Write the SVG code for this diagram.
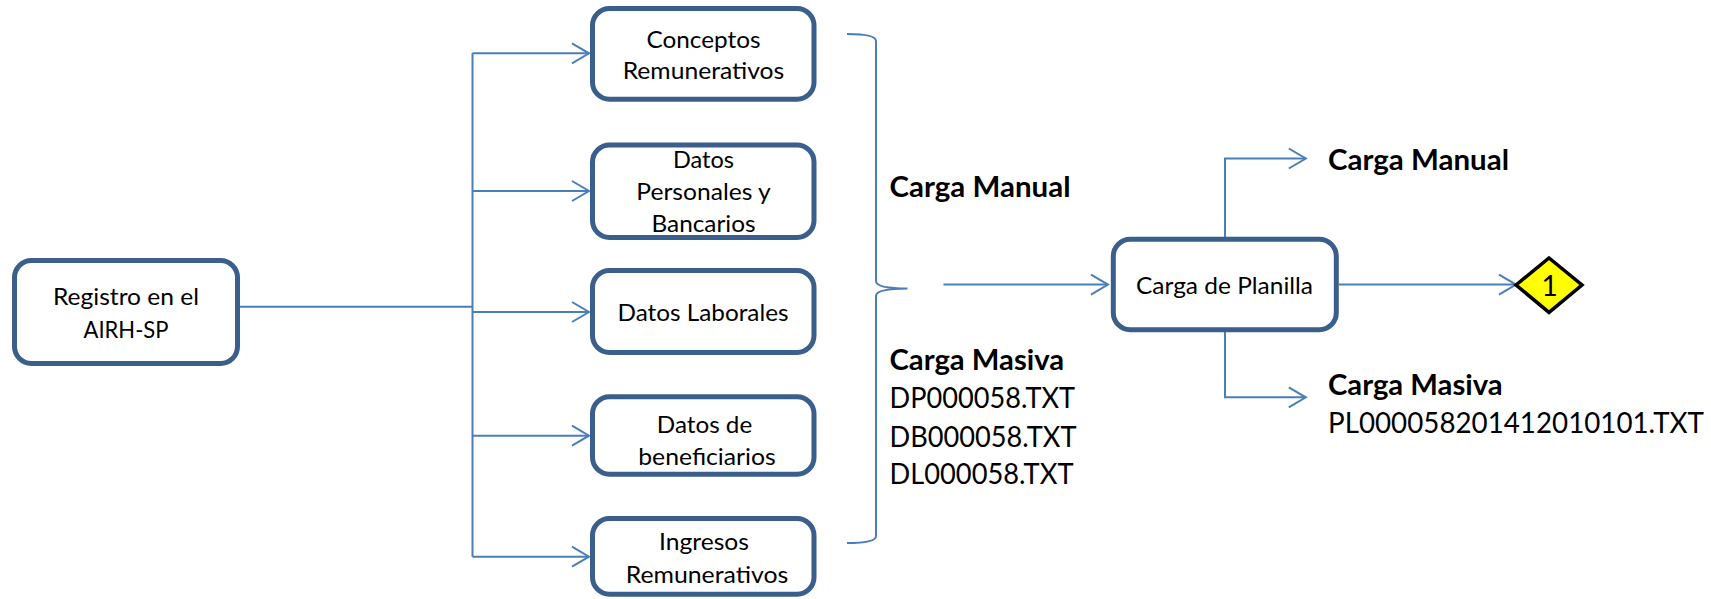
<svg xmlns="http://www.w3.org/2000/svg" width="1711" height="599" viewBox="0 0 1711 599">
<style>
.box{fill:#ffffff;stroke:#3b5f8c;stroke-width:5}
.ln{fill:none;stroke:#4a7ebb;stroke-width:2}
.t{font-family:Lato,"Open Sans","Liberation Sans",sans-serif;font-size:23.5px;fill:#000;text-anchor:middle}
.lb{font-family:Lato,"Open Sans","Liberation Sans",sans-serif;font-size:28.5px;fill:#000}
.b{font-weight:bold}
</style>
<defs>
<marker id="ah" markerUnits="userSpaceOnUse" markerWidth="24" markerHeight="26" refX="20" refY="12" orient="auto" overflow="visible">
<path d="M3,2 L20,12 L3,22" fill="none" stroke="#4a7ebb" stroke-width="2"/>
</marker>
</defs>
<rect width="1711" height="599" fill="#ffffff"/>
<g id="connectors">
<path class="ln" d="M240,306.7 H472.5"/>
<path class="ln" d="M472.5,53.3 V556.7"/>
<path class="ln" d="M472.5,53.3 H589" marker-end="url(#ah)"/>
<path class="ln" d="M472.5,191 H589" marker-end="url(#ah)"/>
<path class="ln" d="M472.5,312 H589" marker-end="url(#ah)"/>
<path class="ln" d="M472.5,435.7 H589" marker-end="url(#ah)"/>
<path class="ln" d="M472.5,556.7 H589" marker-end="url(#ah)"/>
<path class="ln" d="M847,34 Q876,34 876,41 V281 Q876,288.5 907.5,288.5 Q876,288.5 876,296 V536 Q876,543 847,543"/>
<path class="ln" d="M943.4,284.6 H1108" marker-end="url(#ah)"/>
<path class="ln" d="M1225,237 V158.5 H1305.8" marker-end="url(#ah)"/>
<path class="ln" d="M1225,332 V397.3 H1305.8" marker-end="url(#ah)"/>
<path class="ln" d="M1339,284.6 H1516" marker-end="url(#ah)"/>
</g>
<g id="registro">
<rect class="box" x="14.5" y="260.5" width="223" height="103" rx="17"/>
<text class="t" x="126" y="305" textLength="146" lengthAdjust="spacingAndGlyphs">Registro en el</text>
<text class="t" x="126" y="338" textLength="85" lengthAdjust="spacingAndGlyphs">AIRH-SP</text>
</g>
<g id="conceptos">
<rect class="box" x="592.5" y="8.5" width="221.5" height="90.7" rx="17"/>
<text class="t" x="703.5" y="47.5" textLength="114" lengthAdjust="spacingAndGlyphs">Conceptos</text>
<text class="t" x="703.5" y="79.3" textLength="161.6" lengthAdjust="spacingAndGlyphs">Remunerativos</text>
</g>
<g id="personales">
<rect class="box" x="592.5" y="145" width="221.5" height="92.5" rx="17"/>
<text class="t" x="703.5" y="168" textLength="61" lengthAdjust="spacingAndGlyphs">Datos</text>
<text class="t" x="703.5" y="200" textLength="134.5" lengthAdjust="spacingAndGlyphs">Personales y</text>
<text class="t" x="703.5" y="232" textLength="104" lengthAdjust="spacingAndGlyphs">Bancarios</text>
</g>
<g id="laborales">
<rect class="box" x="592.5" y="270.5" width="221.5" height="82" rx="17"/>
<text class="t" x="703" y="321" textLength="171" lengthAdjust="spacingAndGlyphs">Datos Laborales</text>
</g>
<g id="beneficiarios">
<rect class="box" x="592.5" y="396.8" width="221.5" height="77.5" rx="17"/>
<text class="t" x="704.5" y="433" textLength="95.4" lengthAdjust="spacingAndGlyphs">Datos de</text>
<text class="t" x="707" y="465" textLength="137.5" lengthAdjust="spacingAndGlyphs">beneficiarios</text>
</g>
<g id="ingresos">
<rect class="box" x="592.5" y="518.5" width="221.5" height="75.7" rx="17"/>
<text class="t" x="704" y="550" textLength="90" lengthAdjust="spacingAndGlyphs">Ingresos</text>
<text class="t" x="707" y="582.6" textLength="162.7" lengthAdjust="spacingAndGlyphs">Remunerativos</text>
</g>
<g id="carga-planilla">
<rect class="box" x="1113.3" y="239.3" width="223" height="90.5" rx="17"/>
<text class="t" x="1224.5" y="294" textLength="177" lengthAdjust="spacingAndGlyphs">Carga de Planilla</text>
</g>
<g id="conector-1">
<polygon points="1516,285 1549,258 1582,285 1549,312.4" fill="#ffff00" stroke="#000000" stroke-width="3.5" stroke-linejoin="miter"/>
<text class="t" x="1549.5" y="295.5" style="font-size:28px">1</text>
</g>
<g id="labels-left">
<text class="lb b" x="889.5" y="196.7" textLength="181" lengthAdjust="spacingAndGlyphs">Carga Manual</text>
<text class="lb b" x="889.5" y="369.7" textLength="174.6" lengthAdjust="spacingAndGlyphs">Carga Masiva</text>
<text class="lb" x="889.5" y="408" textLength="185.6" lengthAdjust="spacingAndGlyphs">DP000058.TXT</text>
<text class="lb" x="889.5" y="447" textLength="187" lengthAdjust="spacingAndGlyphs">DB000058.TXT</text>
<text class="lb" x="889.5" y="484.3" textLength="184" lengthAdjust="spacingAndGlyphs">DL000058.TXT</text>
</g>
<g id="labels-right">
<text class="lb b" x="1328" y="170" textLength="181" lengthAdjust="spacingAndGlyphs">Carga Manual</text>
<text class="lb b" x="1328" y="395.3" textLength="174.6" lengthAdjust="spacingAndGlyphs">Carga Masiva</text>
<text class="lb" x="1328" y="432.8" textLength="376" lengthAdjust="spacingAndGlyphs">PL000058201412010101.TXT</text>
</g>
</svg>
